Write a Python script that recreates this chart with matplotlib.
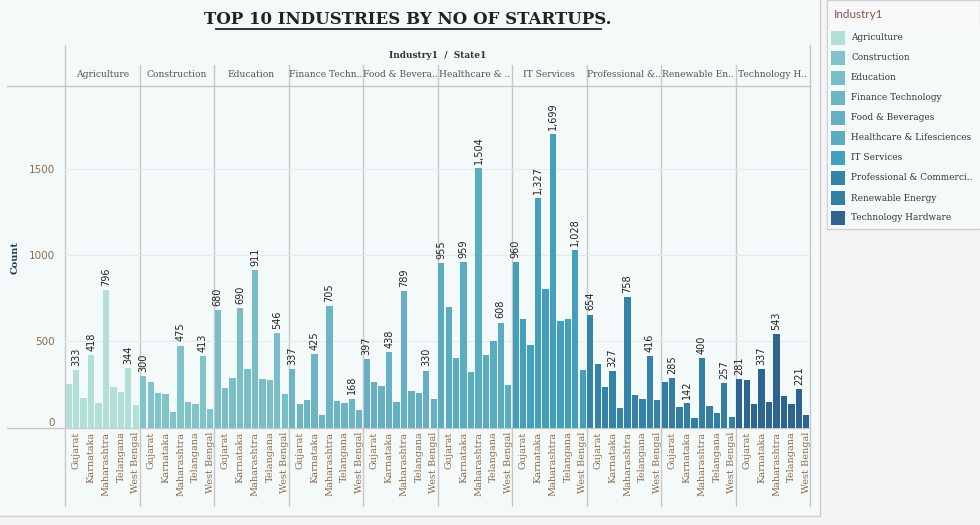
import matplotlib
matplotlib.use('Agg')
import matplotlib.pyplot as plt
import matplotlib.transforms as mtransforms
from matplotlib.patches import Rectangle
from matplotlib.lines import Line2D

# data
industries = ['Agriculture', 'Construction', 'Education', 'Finance Technology',
              'Food & Beverages', 'Healthcare & Lifesciences', 'IT Services',
              'Professional & Commercial Services', 'Renewable Energy',
              'Technology Hardware']
header_labels = ['Agriculture', 'Construction', 'Education', 'Finance Techn..',
                 'Food & Bevera..', 'Healthcare & ..', 'IT Services',
                 'Professional &..', 'Renewable En..', 'Technology H..']
legend_labels = ['Agriculture', 'Construction', 'Education', 'Finance Technology',
                 'Food & Beverages', 'Healthcare & Lifesciences', 'IT Services',
                 'Professional & Commerci..', 'Renewable Energy',
                 'Technology Hardware']
states = ['Delhi', 'Gujarat', 'Haryana', 'Karnataka', 'Kerala', 'Maharashtra',
          'Tamil Nadu', 'Telangana', 'Uttar Pradesh', 'West Bengal']

agriculture = [252, 333, 171, 418, 142, 796, 234, 206, 344, 130]
construction = [300, 264, 200, 194, 90, 475, 148, 136, 413, 107]
education = [680, 229, 287, 690, 339, 911, 281, 275, 546, 194]
finance = [337, 136, 159, 425, 72, 705, 154, 142, 168, 101]
food = [397, 264, 240, 438, 148, 789, 211, 200, 330, 165]
healthcare = [955, 698, 403, 959, 322, 1504, 420, 501, 608, 246]
it_services = [960, 629, 478, 1327, 802, 1699, 617, 629, 1028, 333]
professional = [654, 368, 235, 327, 113, 758, 188, 165, 416, 159]
renewable = [264, 285, 119, 142, 55, 400, 125, 84, 257, 61]
tech_hardware = [281, 275, 136, 337, 148, 543, 182, 136, 221, 72]
counts = [agriculture, construction, education, finance, food, healthcare,
          it_services, professional, renewable, tech_hardware]

# which bars carry a value label (tableau hides the overlapping ones)
label_idx = [[1, 3, 5, 8], [0, 5, 8], [0, 3, 5, 8], [0, 3, 5, 8], [0, 3, 5, 8],
             [0, 3, 5, 8], [0, 3, 5, 8], [0, 3, 5, 8], [1, 3, 5, 8], [0, 3, 5, 8]]

colors = ['#b3e0d6', '#80c4c9', '#79bec7', '#6cb5c4', '#67afc2',
          '#5aacc1', '#449fba', '#3583a8', '#357ea3', '#2e6590']

W, H = 980, 525
bg = '#f3faf9'
serif = 'DejaVu Serif'


def fx(x):
    return x / W


def fy(y):
    return 1 - y / H


fig = plt.figure(figsize=(9.8, 5.25), dpi=100)
fig.patch.set_facecolor('#f4f4f4')
fig.patches.append(Rectangle((0, fy(516)), fx(820), 516 / H, transform=fig.transFigure,
                             facecolor=bg, edgecolor='none', zorder=-5))
fig.lines.append(Line2D([fx(820), fx(820)], [fy(0), fy(516)], transform=fig.transFigure,
                        color='#cfcfcf', lw=1))
fig.lines.append(Line2D([0, fx(820)], [fy(516), fy(516)], transform=fig.transFigure,
                        color='#cfcfcf', lw=1))

ax = fig.add_axes([fx(65), fy(427.5), fx(810 - 65), (427.5 - 87) / H])
ax.set_zorder(3)
ax.set_facecolor('none')
for s in ax.spines.values():
    s.set_visible(False)

n = len(states)
for p, vals in enumerate(counts):
    xs = [p * n + i for i in range(n)]
    ax.bar(xs, vals, width=0.85, color=colors[p], zorder=3)
    for i in label_idx[p]:
        ax.annotate(f'{vals[i]:,}', (xs[i], vals[i]), xytext=(0, 3),
                    textcoords='offset points', rotation=90, ha='center', va='bottom',
                    fontsize=7, color='#222222', zorder=4)

ax.set_xlim(-0.5, n * len(industries) - 0.5)
ax.set_ylim(0, 1973)
ax.set_yticks([0, 500, 1000, 1500])
ax.set_yticklabels(['0', '500', '1000', '1500'], fontsize=7.5, color='#8b6b4a')
ax.get_yticklabels()[0].set_va('bottom')
ax.yaxis.grid(True, color='#e3ecec', lw=0.8, zorder=0)
ax.tick_params(axis='y', length=0, pad=7)

tick_pos = [p * n + i for p in range(len(industries)) for i in range(1, n, 2)]
tick_lab = [states[i] for p in range(len(industries)) for i in range(1, n, 2)]
ax.set_xticks(tick_pos)
ax.set_xticklabels(tick_lab, rotation=90, fontsize=7, color='#8b6b4a', family=serif)
ax.tick_params(axis='x', length=0, pad=3)

ax.set_ylabel('Count', fontsize=7, fontweight='bold', color='#1f3a5a', family=serif)
ax.yaxis.set_label_coords((20 - 65) / 745, 0.5)

# panel dividers and header grid
trans = mtransforms.blended_transform_factory(ax.transData, fig.transFigure)
for p in range(len(industries) + 1):
    x = p * n - 0.5
    top = 45 if p in (0, len(industries)) else 65
    fig.lines.append(Line2D([x, x], [fy(top), fy(506)], transform=trans,
                            color='#c8c8c8', lw=1))
for y in (86, 427.5):
    fig.lines.append(Line2D([fx(7), fx(810)], [fy(y), fy(y)], transform=fig.transFigure,
                            color='#c8c8c8', lw=1))

for p, lab in enumerate(header_labels):
    fig.text(p * n + (n - 1) / 2, fy(75), lab, transform=trans, fontsize=6.6,
             color='#555555', family=serif, ha='center', va='center')
fig.text(fx(438), fy(56), 'Industry1  /  State1', fontsize=6.5, fontweight='bold',
         color='#333333', family=serif, ha='center', va='center')

# title with underline
fig.text(fx(408), fy(19), 'TOP 10 INDUSTRIES BY NO OF STARTUPS.', fontsize=12,
         fontweight='bold', color='#222222', family=serif, ha='center', va='center')
fig.lines.append(Line2D([fx(216), fx(601)], [fy(29), fy(29)], transform=fig.transFigure,
                        color='#222222', lw=1.3))

# legend panel
fig.patches.append(Rectangle((fx(827), fy(229)), fx(980 - 827), 229 / H,
                             transform=fig.transFigure, facecolor='#f8f8f8',
                             edgecolor='#d0d0d0', lw=1, zorder=-5))
fig.patches.append(Rectangle((fx(828), fy(228)), fx(980 - 828), (228 - 28) / H,
                             transform=fig.transFigure, facecolor=bg,
                             edgecolor='none', zorder=-4))
fig.text(fx(834), fy(14), 'Industry1', fontsize=8.5, color='#7a5f52', ha='left',
         va='center', family='Lato')
for k, lab in enumerate(legend_labels):
    yc = 38 + 20 * k
    fig.patches.append(Rectangle((fx(831), fy(yc + 7)), fx(14), 14 / H,
                                 transform=fig.transFigure, facecolor=colors[k],
                                 edgecolor='none', zorder=1))
    fig.text(fx(851), fy(yc), lab, fontsize=6.4, color='#333333', family=serif,
             ha='left', va='center')

fig.savefig('out.png', dpi=100, facecolor=fig.get_facecolor())
